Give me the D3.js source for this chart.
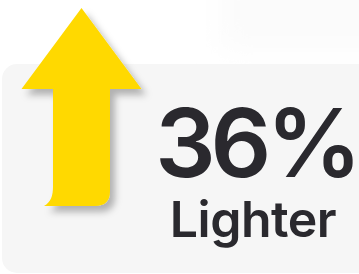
<!DOCTYPE html>
<html>
<head>
<meta charset="utf-8">
<script src="https://cdn.jsdelivr.net/npm/d3@7"></script>
<style>
  html, body { margin: 0; padding: 0; background: #fff; }
  svg { display: block; }
</style>
</head>
<body>
<div id="vis"></div>
<script>
const WIDTH = 359;
const HEIGHT = 274;

// the figure shown on the card
const values = [36];
const units = ["%"];
const labels = ["Lighter"];

const svg = d3.select("#vis").append("svg")
  .attr("width", WIDTH)
  .attr("height", HEIGHT);

const defs = svg.append("defs");

// soft shadow under the arrow
defs.append("filter")
  .attr("id", "shadow")
  .attr("x", "-30%").attr("y", "-30%")
  .attr("width", "160%").attr("height", "160%")
  .append("feDropShadow")
  .attr("dx", 5).attr("dy", 6)
  .attr("stdDeviation", 3.5)
  .attr("flood-color", "#000")
  .attr("flood-opacity", 0.28);

defs.append("filter")
  .attr("id", "blur")
  .attr("x", "-50%").attr("y", "-50%")
  .attr("width", "200%").attr("height", "200%")
  .append("feGaussianBlur")
  .attr("stdDeviation", 14);

// faint haze in the top right corner
svg.append("rect")
  .attr("x", 220).attr("y", -30)
  .attr("width", 200).attr("height", 80)
  .attr("fill", "#fbfbfb")
  .attr("filter", "url(#blur)");

// card
svg.append("rect")
  .attr("x", 2).attr("y", 64)
  .attr("width", WIDTH + 20).attr("height", HEIGHT - 64 - 1)
  .attr("rx", 15)
  .attr("fill", "#f6f6f6");

// arrow length follows the value: shaft bottom -> tip
const y = d3.scaleLinear().domain([0, values[0]]).range([206, 8]);

function arrowPath(v) {
  const tip = y(v);            // arrow tip
  const base = y(0);           // bottom of the shaft
  const headH = 81;            // height of the head
  const cx = 81.5;
  const headW = 60, shaftW = 28.5, r = 15, flare = 9;
  const p = d3.path();
  p.moveTo(cx, tip);
  p.lineTo(cx + headW, tip + headH);
  p.lineTo(cx + shaftW, tip + headH);
  p.lineTo(cx + shaftW, base - r);
  p.quadraticCurveTo(cx + shaftW, base, cx + shaftW - r, base);
  p.lineTo(cx - shaftW - flare, base);
  p.bezierCurveTo(cx - shaftW - 2, base - 4, cx - shaftW, base - 10, cx - shaftW, base - 20);
  p.lineTo(cx - shaftW, tip + headH);
  p.lineTo(cx - headW, tip + headH);
  p.closePath();
  return p.toString();
}

svg.selectAll(".arrow")
  .data(values)
  .enter().append("path")
  .attr("class", "arrow")
  .attr("d", d => arrowPath(d))
  .attr("fill", "#ffd900")
  .attr("filter", "url(#shadow)");

const textX = 256;

svg.selectAll(".value")
  .data(values)
  .enter().append("text")
  .attr("class", "value")
  .attr("x", textX).attr("y", 177)
  .attr("text-anchor", "middle")
  .attr("font-family", "Inter, 'Noto Sans', sans-serif")
  .attr("font-weight", 600)
  .attr("font-size", 95)
  .attr("letter-spacing", -5)
  .attr("fill", "#2a292e")
  .text((d, i) => d + units[i]);

svg.selectAll(".label")
  .data(labels)
  .enter().append("text")
  .attr("class", "label")
  .attr("x", textX - 3).attr("y", 237)
  .attr("text-anchor", "middle")
  .attr("font-family", "Inter, 'Noto Sans', sans-serif")
  .attr("font-weight", 600)
  .attr("font-size", 50)
  .attr("letter-spacing", -0.5)
  .attr("fill", "#2a292e")
  .text(d => d);
</script>
</body>
</html>
